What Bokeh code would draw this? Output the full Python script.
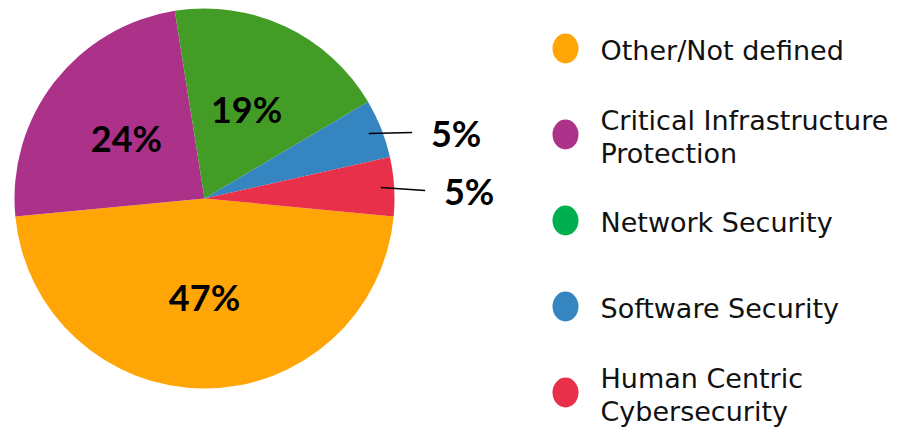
import math
from bokeh.plotting import figure
from bokeh.models import Range1d, ColumnDataSource
from bokeh.embed import file_html
from bokeh.resources import INLINE
from bokeh.core.properties import value

# ---- data ----
categories = ["Other/Not defined", "Critical Infrastructure Protection",
              "Network Security", "Software Security", "Human Centric Cybersecurity"]
legend_lines = [["Other/Not defined"], ["Critical Infrastructure", "Protection"],
                ["Network Security"], ["Software Security"], ["Human Centric", "Cybersecurity"]]
values = [47, 24, 19, 5, 5]
pie_colors = ["#FFA506", "#AC3189", "#439C26", "#3585C1", "#E9304A"]
legend_colors = ["#FFA506", "#AC3189", "#00B050", "#3585C1", "#E9304A"]

# ---- layout ----
W, H = 901, 428
cx, cy, R = 204, H - 198, 190
first_angle = math.radians(-5.4)
label_font = value("Lato")
legend_font = value("DejaVu Sans")

total = float(sum(values))
starts, ends, mids = [], [], []
cum = 0.0
for v in values:
    s = first_angle - 2 * math.pi * cum / total
    cum += v
    e = first_angle - 2 * math.pi * cum / total
    starts.append(s)
    ends.append(e)
    mids.append((s + e) / 2)

p = figure(width=W, height=H, x_range=Range1d(0, W), y_range=Range1d(0, H),
           output_backend="svg", toolbar_location=None, min_border=0,
           x_axis_type=None, y_axis_type=None)
p.grid.visible = False
p.outline_line_color = None
p.background_fill_color = "white"

src = ColumnDataSource(dict(start=starts, end=ends, color=pie_colors, cat=categories))
p.wedge(x=cx, y=cy, radius=R, start_angle="start", end_angle="end", direction="clock",
        fill_color="color", line_color=None, source=src)

# percentage labels
in_x, in_y, in_t = [], [], []
out_x, out_y, out_t = [], [], []
seg_x0, seg_y0, seg_x1, seg_y1 = [], [], [], []
for v, m in zip(values, mids):
    pct = f"{round(100 * v / total)}%"
    if v / total >= 0.10:
        in_x.append(cx + 0.52 * R * math.cos(m))
        in_y.append(cy + 0.52 * R * math.sin(m))
        in_t.append(pct)
    else:
        ex = cx + R * math.cos(m)
        ey = cy + R * math.sin(m) - 4
        lx = ex + 75
        out_x.append(lx)
        out_y.append(ey)
        out_t.append(pct)
        seg_x0.append(cx + 0.93 * R * math.cos(m))
        seg_y0.append(cy + 0.93 * R * math.sin(m))
        seg_x1.append(lx - 44)
        seg_y1.append(ey)

p.segment(x0=seg_x0, y0=seg_y0, x1=seg_x1, y1=seg_y1, line_color="black", line_width=1.5)
p.text(x=in_x, y=in_y, text=in_t, text_font=label_font, text_font_style="bold",
       text_font_size="36px", text_align="center", text_baseline="middle", text_color="black")
p.text(x=out_x, y=out_y, text=out_t, text_font=label_font, text_font_style="bold",
       text_font_size="36px", text_align="center", text_baseline="middle", text_color="black")

# legend
leg_x, text_x = 565, 600
leg_y = [H - (48 + 86 * i) for i in range(len(categories))]
p.ellipse(x=[leg_x] * len(leg_y), y=leg_y, width=26, height=30,
          fill_color=legend_colors, line_color=None)
tx, ty, tt = [], [], []
for y, lines in zip(leg_y, legend_lines):
    if len(lines) == 1:
        tx.append(text_x); ty.append(y - 2); tt.append(lines[0])
    else:
        tx += [text_x, text_x]
        ty += [y + 14, y - 19]
        tt += lines
p.text(x=tx, y=ty, text=tt, text_font=legend_font, text_font_size="27px",
       text_align="left", text_baseline="middle", text_color="#111111")

open("out.html", "w").write(file_html(p, INLINE))
